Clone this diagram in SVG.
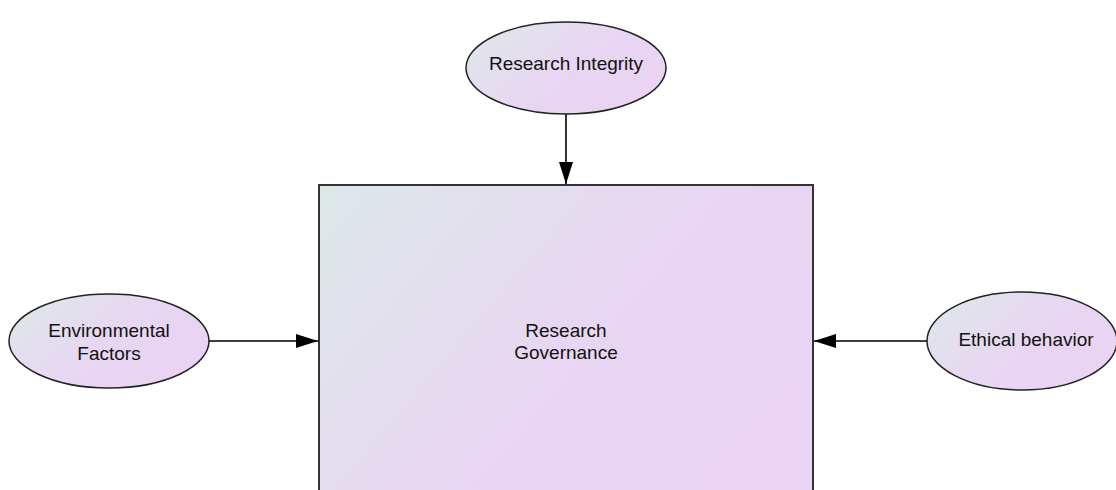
<svg xmlns="http://www.w3.org/2000/svg" width="1116" height="490" viewBox="0 0 1116 490">
  <defs>
    <linearGradient id="fillGrad" x1="0" y1="0" x2="1" y2="0.55">
      <stop offset="0" stop-color="#dde9e9"/>
      <stop offset="0.6" stop-color="#e8d6f2"/>
      <stop offset="1" stop-color="#ead3f3"/>
    </linearGradient>
    <marker id="arrow" viewBox="0 0 22 14" refX="22" refY="7" markerWidth="22" markerHeight="14" markerUnits="userSpaceOnUse" orient="auto">
      <path d="M0,0 L22,7 L0,14 Z" fill="#000"/>
    </marker>
  </defs>
  <style>
    .shape { fill: url(#fillGrad); stroke: #222; stroke-width: 1.5; }
    .box { fill: url(#fillGrad); stroke: #333; stroke-width: 2; }
    .label { font-family: "Liberation Sans", Arial, sans-serif; font-size: 19px; fill: #111; text-anchor: middle; }
    .edge { stroke: #000; stroke-width: 1.6; fill: none; marker-end: url(#arrow); }
  </style>
  <rect width="1116" height="490" fill="#fff"/>

  <g id="governance">
    <rect class="box" x="319" y="185" width="494" height="320"/>
    <text class="label" x="566" y="337">Research</text>
    <text class="label" x="566" y="359">Governance</text>
  </g>

  <g id="integrity">
    <ellipse class="shape" cx="566" cy="68" rx="100" ry="46"/>
    <text class="label" x="566" y="70">Research Integrity</text>
  </g>

  <g id="environment">
    <ellipse class="shape" cx="109" cy="341" rx="100" ry="47"/>
    <text class="label" x="109" y="337">Environmental</text>
    <text class="label" x="109" y="360">Factors</text>
  </g>

  <g id="ethics">
    <ellipse class="shape" cx="1022" cy="341" rx="95" ry="49"/>
    <text class="label" x="1026" y="346">Ethical behavior</text>
  </g>

  <g id="connectors">
    <line class="edge" x1="566" y1="114" x2="566" y2="184"/>
    <line class="edge" x1="209" y1="341" x2="318" y2="341"/>
    <line class="edge" x1="927" y1="341" x2="814" y2="341"/>
  </g>
</svg>
